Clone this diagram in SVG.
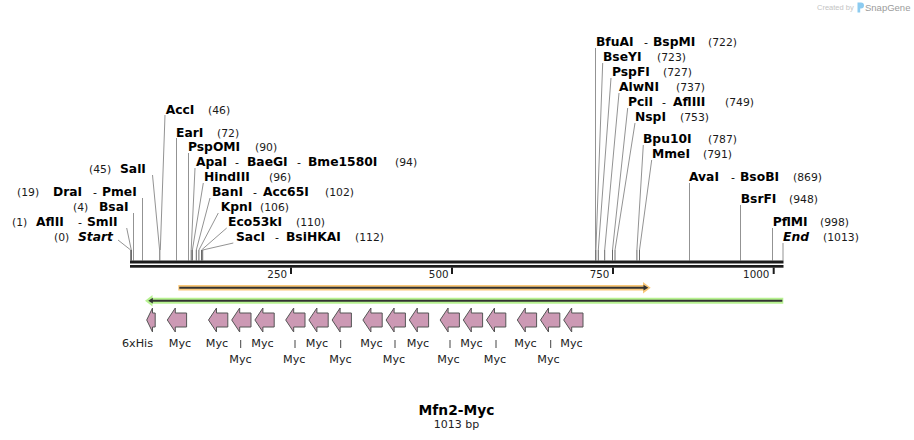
<svg xmlns="http://www.w3.org/2000/svg" xmlns:xlink="http://www.w3.org/1999/xlink" width="914" height="440" viewBox="0 0 914 440">
<style>
.n{font-family:"DejaVu Sans",Verdana,sans-serif;font-weight:bold;font-size:12.3px;fill:#000}
.it{font-style:italic}
.p{font-family:"DejaVu Sans",Verdana,sans-serif;font-size:10.8px;fill:#1a1a1a}
.d{font-family:"DejaVu Sans",Verdana,sans-serif;font-size:11px;fill:#000}
.t{font-family:"DejaVu Sans",Verdana,sans-serif;font-size:10.3px;fill:#222;text-anchor:end}
.fl{font-family:"DejaVu Sans",Verdana,sans-serif;font-size:11.2px;fill:#222;text-anchor:middle}
.cl{stroke:#939393;stroke-width:1;fill:none}
.cs{stroke:#6a6a6a;stroke-width:1;fill:none}
.ld{stroke:#444;stroke-width:1}
.myc{fill:#cc99b4;stroke:#555;stroke-width:1;stroke-linejoin:round}
</style>
<defs>
<path id="myc" d="M0,12 L8,0 L8,5 L19.3,5 L19.3,19 L8,19 L8,24 Z"/>
</defs>
<rect width="914" height="440" fill="#fff"/>

<g id="logo">
<text x="817" y="10" font-family="Liberation Sans,Arial,sans-serif" font-size="7.5" fill="#c4c4c4">Created by</text>
<path d="M857.5,2.5 h3.5 a3,3 0 0 1 0,6 h-0.8 v4 h-2.7 z" fill="#8ccbf0"/>
<text x="865" y="11" font-family="Liberation Sans,Arial,sans-serif" font-size="9.5" fill="#9b9b9b">SnapGene</text>
</g>

<g id="connectors">
<path class="cl" d="M118,240 L130.7,250"/>
<path class="cl" d="M126.7,228 L131.3,250"/>
<path class="cl" d="M133.5,213 V260.5"/>
<path class="cl" d="M142.5,198 V260.5"/>
<path class="cl" d="M152.5,175 L159.6,250"/>
<path class="cl" d="M165,115 L160.3,250"/>
<path class="cl" d="M176.5,138 V260.5"/>
<path class="cl" d="M188.5,153 V260.5"/>
<path class="cl" d="M195,168 L191.2,250"/>
<path class="cl" d="M203.3,183 L192.4,250"/>
<path class="cl" d="M210,198 L196.3,250"/>
<path class="cl" d="M218.3,213 L198.9,250"/>
<path class="cl" d="M226.7,228 L201.5,250"/>
<path class="cl" d="M233.3,243 L202.7,250"/>
<path class="cl" d="M595.5,48 V260.5"/>
<path class="cl" d="M602.7,63 L595.9,250"/>
<path class="cl" d="M611,78 L598.3,250"/>
<path class="cl" d="M619,93 L604.7,250"/>
<path class="cl" d="M627.7,108 L612.5,250"/>
<path class="cl" d="M635,123 L615,250"/>
<path class="cl" d="M643.3,145 L636.9,250"/>
<path class="cl" d="M651.7,160 L639.5,250"/>
<path class="cl" d="M689.5,183 V260.5"/>
<path class="cl" d="M740.5,205 V260.5"/>
<path class="cl" d="M772.5,228 V260.5"/>
<path class="cl" d="M783,243 V260.5"/>
<path class="cs" d="M130.7,250 V260.5 M131.5,250 V260.5 M159.8,250 V260.5 M191.2,250 V260.5 M192.4,250 V260.5 M196.3,250 V260.5 M198.9,250 V260.5 M201.5,250 V260.5 M202.7,250 V260.5"/>
<path class="cs" d="M595.9,250 V260.5 M598.3,250 V260.5 M604.7,250 V260.5 M612.5,250 V260.5 M615,250 V260.5 M636.9,250 V260.5 M639.5,250 V260.5"/>
</g>

<g id="site-start"><text x="54" y="241" class="p">(0)</text><text x="78" y="241" class="n it">Start</text></g>
<g id="site-aflii-smli"><text x="12" y="226" class="p">(1)</text><text x="36" y="226" class="n">AflII</text><text x="78" y="226" class="d">-</text><text x="87" y="226" class="n">SmlI</text></g>
<g id="site-bsai"><text x="73" y="211" class="p">(4)</text><text x="99" y="211" class="n">BsaI</text></g>
<g id="site-drai-pmei"><text x="17" y="196" class="p">(19)</text><text x="53" y="196" class="n">DraI</text><text x="93" y="196" class="d">-</text><text x="102" y="196" class="n">PmeI</text></g>
<g id="site-sali"><text x="89" y="173" class="p">(45)</text><text x="120" y="173" class="n">SalI</text></g>
<g id="site-acci"><text x="165.7" y="113.5" class="n">AccI</text><text x="208" y="113.5" class="p">(46)</text></g>
<g id="site-eari"><text x="176" y="136.5" class="n">EarI</text><text x="217" y="136.5" class="p">(72)</text></g>
<g id="site-pspomi"><text x="188" y="151" class="n">PspOMI</text><text x="255" y="151" class="p">(90)</text></g>
<g id="site-apai"><text x="196" y="166" class="n">ApaI</text><text x="235" y="166" class="d">-</text><text x="247" y="166" class="n">BaeGI</text><text x="297" y="166" class="d">-</text><text x="308" y="166" class="n">Bme1580I</text><text x="395" y="166" class="p">(94)</text></g>
<g id="site-hindiii"><text x="204" y="181" class="n">HindIII</text><text x="269" y="181" class="p">(96)</text></g>
<g id="site-bani"><text x="212" y="196" class="n">BanI</text><text x="253" y="196" class="d">-</text><text x="263" y="196" class="n">Acc65I</text><text x="325" y="196" class="p">(102)</text></g>
<g id="site-kpni"><text x="220.7" y="211" class="n">KpnI</text><text x="260" y="211" class="p">(106)</text></g>
<g id="site-eco53ki"><text x="228" y="226" class="n">Eco53kI</text><text x="296" y="226" class="p">(110)</text></g>
<g id="site-saci"><text x="236" y="241" class="n">SacI</text><text x="275" y="241" class="d">-</text><text x="286" y="241" class="n">BsiHKAI</text><text x="355" y="241" class="p">(112)</text></g>

<g id="site-bfuai"><text x="596" y="46" class="n">BfuAI</text><text x="644" y="46" class="d">-</text><text x="653" y="46" class="n">BspMI</text><text x="708" y="46" class="p">(722)</text></g>
<g id="site-bseyi"><text x="603" y="61" class="n">BseYI</text><text x="657" y="61" class="p">(723)</text></g>
<g id="site-pspfi"><text x="612" y="76" class="n">PspFI</text><text x="663" y="76" class="p">(727)</text></g>
<g id="site-alwni"><text x="619" y="91" class="n">AlwNI</text><text x="676" y="91" class="p">(737)</text></g>
<g id="site-pcii"><text x="628" y="106" class="n">PciI</text><text x="662" y="106" class="d">-</text><text x="673" y="106" class="n">AflIII</text><text x="725" y="106" class="p">(749)</text></g>
<g id="site-nspi"><text x="635" y="121" class="n">NspI</text><text x="680" y="121" class="p">(753)</text></g>
<g id="site-bpu10i"><text x="643" y="143" class="n">Bpu10I</text><text x="708" y="143" class="p">(787)</text></g>
<g id="site-mmei"><text x="652" y="158" class="n">MmeI</text><text x="703" y="158" class="p">(791)</text></g>
<g id="site-avai"><text x="689" y="181" class="n">AvaI</text><text x="731" y="181" class="d">-</text><text x="740" y="181" class="n">BsoBI</text><text x="793" y="181" class="p">(869)</text></g>
<g id="site-bsrfi"><text x="740.7" y="203" class="n">BsrFI</text><text x="789" y="203" class="p">(948)</text></g>
<g id="site-pflmi"><text x="772.7" y="226" class="n">PflMI</text><text x="820" y="226" class="p">(998)</text></g>
<g id="site-end"><text x="783" y="241" class="n it">End</text><text x="823" y="241" class="p">(1013)</text></g>

<g id="ruler">
<rect x="130" y="260.5" width="653.5" height="3" fill="#1c1c1c"/>
<rect x="130" y="265" width="653.5" height="2.7" fill="#1c1c1c"/>
<rect x="290" y="267.5" width="2" height="6.5" fill="#1c1c1c"/>
<rect x="451" y="267.5" width="2" height="6.5" fill="#1c1c1c"/>
<rect x="612" y="267.5" width="2" height="6.5" fill="#1c1c1c"/>
<rect x="772.7" y="267.5" width="2" height="6.5" fill="#1c1c1c"/>
<text x="287" y="278" class="t">250</text>
<text x="448.5" y="278" class="t">500</text>
<text x="609.3" y="278" class="t">750</text>
<text x="769.3" y="278" class="t">1000</text>
</g>

<g id="feature-orf">
<line x1="178.3" y1="287.7" x2="644" y2="287.7" stroke="#f9c87a" stroke-width="5.5"/>
<polygon points="643,282 650.7,287.7 643,293.4" fill="#f9c87a"/>
<line x1="179.3" y1="287.7" x2="644" y2="287.7" stroke="#333" stroke-width="2"/>
<polygon points="643.5,284.8 648.3,287.7 643.5,290.6" fill="#333"/>
</g>

<g id="feature-green">
<line x1="152" y1="300.7" x2="783.3" y2="300.7" stroke="#b7f291" stroke-width="6"/>
<polygon points="152.5,295 145,300.7 152.5,306.4" fill="#b7f291"/>
<line x1="152" y1="300.7" x2="782.3" y2="300.7" stroke="#333" stroke-width="2"/>
<polygon points="152.8,297.8 148.3,300.7 152.8,303.6" fill="#333"/>
</g>

<g id="feature-6xhis">
<path class="myc" d="M146.7,320 L152.5,308 L152.5,313 L155.2,313 L155.2,327 L152.5,327 L152.5,332 Z"/>
<text x="137.5" y="346.7" class="fl">6xHis</text>
</g>
<g id="feature-myc-1"><use xlink:href="#myc" x="167.3" y="308" class="myc"/><text x="180" y="346.7" class="fl">Myc</text></g>
<g id="feature-myc-2"><use xlink:href="#myc" x="208.5" y="308" class="myc"/><text x="217" y="346.7" class="fl">Myc</text></g>
<g id="feature-myc-3"><use xlink:href="#myc" x="231.7" y="308" class="myc"/><line class="ld" x1="240.7" y1="340" x2="240.7" y2="348"/><text x="240.5" y="362.5" class="fl">Myc</text></g>
<g id="feature-myc-4"><use xlink:href="#myc" x="254.9" y="308" class="myc"/><text x="262.5" y="346.7" class="fl">Myc</text></g>
<g id="feature-myc-5"><use xlink:href="#myc" x="285.7" y="308" class="myc"/><line class="ld" x1="295" y1="340" x2="295" y2="348"/><text x="294.3" y="362.5" class="fl">Myc</text></g>
<g id="feature-myc-6"><use xlink:href="#myc" x="308.9" y="308" class="myc"/><text x="317" y="346.7" class="fl">Myc</text></g>
<g id="feature-myc-7"><use xlink:href="#myc" x="332.1" y="308" class="myc"/><line class="ld" x1="340.7" y1="340" x2="340.7" y2="348"/><text x="340.5" y="362.5" class="fl">Myc</text></g>
<g id="feature-myc-8"><use xlink:href="#myc" x="362.9" y="308" class="myc"/><text x="371.5" y="346.7" class="fl">Myc</text></g>
<g id="feature-myc-9"><use xlink:href="#myc" x="386.1" y="308" class="myc"/><line class="ld" x1="395" y1="340" x2="395" y2="348"/><text x="394" y="362.5" class="fl">Myc</text></g>
<g id="feature-myc-10"><use xlink:href="#myc" x="409.3" y="308" class="myc"/><text x="418" y="346.7" class="fl">Myc</text></g>
<g id="feature-myc-11"><use xlink:href="#myc" x="440.1" y="308" class="myc"/><line class="ld" x1="450" y1="340" x2="450" y2="348"/><text x="448.5" y="362.5" class="fl">Myc</text></g>
<g id="feature-myc-12"><use xlink:href="#myc" x="463.3" y="308" class="myc"/><text x="471.5" y="346.7" class="fl">Myc</text></g>
<g id="feature-myc-13"><use xlink:href="#myc" x="486.5" y="308" class="myc"/><line class="ld" x1="496" y1="340" x2="496" y2="348"/><text x="495" y="362.5" class="fl">Myc</text></g>
<g id="feature-myc-14"><use xlink:href="#myc" x="517.3" y="308" class="myc"/><text x="525.5" y="346.7" class="fl">Myc</text></g>
<g id="feature-myc-15"><use xlink:href="#myc" x="540.5" y="308" class="myc"/><line class="ld" x1="550.7" y1="340" x2="550.7" y2="348"/><text x="548.5" y="362.5" class="fl">Myc</text></g>
<g id="feature-myc-16"><use xlink:href="#myc" x="563.7" y="308" class="myc"/><text x="571.5" y="346.7" class="fl">Myc</text></g>

<g id="title">
<text x="456.5" y="415" text-anchor="middle" font-family="DejaVu Sans,Verdana,sans-serif" font-weight="bold" font-size="13.8" fill="#000">Mfn2-Myc</text>
<text x="456.5" y="428" text-anchor="middle" font-family="DejaVu Sans,Verdana,sans-serif" font-size="11" fill="#222">1013 bp</text>
</g>
</svg>
